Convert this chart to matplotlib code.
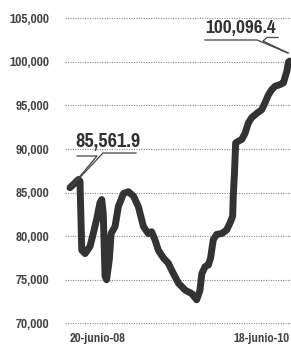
import matplotlib
matplotlib.use("Agg")
import matplotlib.pyplot as plt
from matplotlib import font_manager
from matplotlib.font_manager import FontProperties

# ---- data ----
days = [0, 28, 33, 39, 50, 66, 77, 88, 99, 105, 110, 116, 121, 130, 136, 149, 160,
        177, 193, 210, 226, 243, 259, 270, 281, 292, 309, 325, 342, 359, 381, 403,
        419, 430, 436, 447, 458, 465, 474, 485, 502, 518, 529, 538, 540, 544, 548,
        557, 568, 579, 590, 601, 618, 634, 645, 656, 667, 678, 695, 706, 717, 723, 728]
values = [85561.9, 86500, 86300, 78400, 78000, 78800, 80300, 81900, 83800, 84200, 82600,
          75400, 75000, 77300, 80300, 81100, 83400, 84900, 85100, 84600, 83400, 81100,
          80300, 80500, 79600, 78400, 77500, 76900, 75700, 74600, 73800, 73400, 72700,
          73800, 75700, 76500, 76700, 77500, 79600, 80200, 80300, 80700, 81500, 82300,
          84600, 87200, 90700, 90900, 91100, 91800, 93000, 93600, 94100, 94500, 95300,
          96200, 96800, 97200, 97400, 97600, 98900, 100000, 100096.4]
ytick_vals = [70000, 75000, 80000, 85000, 90000, 95000, 100000, 105000]
ytick_labels = ["70,000", "75,000", "80,000", "85,000", "90,000", "95,000", "100,000", "105,000"]
xtick_labels = ["20-junio-08", "18-junio-10"]
start_label = "85,561.9"
end_label = "100,096.4"

# pick a narrow font if one is installed (medium/semibold/bold preferred)
cands = []
for f in font_manager.fontManager.ttflist:
    fn = f.fname.lower().split("/")[-1]
    nm = f.name.lower()
    if ("narrow" in fn or "condensed" in fn or "narrow" in nm or "condensed" in nm) \
            and "italic" not in fn and "oblique" not in fn:
        score = 0
        if "narrow" in fn or "narrow" in nm:
            score += 10
        if "semicondensed" in fn or "semi" in nm:
            score -= 3
        if "extracondensed" in fn or "extra" in nm:
            score -= 1
        if "semibold" in fn:
            score += 4
        elif "medium" in fn:
            score += 3
        elif "extrabold" in fn or "black" in fn or "light" in fn or "thin" in fn:
            score -= 5
        elif "bold" in fn:
            score += 2
        cands.append((score, f.fname))
if cands:
    cands.sort(reverse=True)
    FP = lambda size: FontProperties(fname=cands[0][1], size=size)
else:
    FP = lambda size: FontProperties(family="DejaVu Sans", stretch="condensed", size=size)

W, H = 291, 345
fig = plt.figure(figsize=(W / 100, H / 100), dpi=100)
ax = fig.add_axes([65 / W, (345 - 332) / H, 1 - 65 / W, (332 - 9.6) / H])
ax.set_xlim(-16.5, 731)
ax.set_ylim(69000, 106000)

for v in ytick_vals:
    ax.axhline(v, color="#8a8a8a", lw=0.8, ls=(0, (1, 1.2)), zorder=1)

ax.plot(days, values, color="#333333", lw=5, solid_joinstyle="round",
        solid_capstyle="round", zorder=3)

for s in ax.spines.values():
    s.set_visible(False)
ax.set_yticks(ytick_vals)
ax.set_yticklabels(ytick_labels, color="#444444")
for t in ax.get_yticklabels():
    t.set_fontproperties(FP(10.5))
ax.tick_params(axis="y", length=0, pad=11)
ax.set_xticks([days[0], days[-1]])
xt = ax.set_xticklabels(xtick_labels, color="#444444")
for t in xt:
    t.set_fontproperties(FP(10))
xt[0].set_ha("left")
xt[1].set_ha("right")
ax.tick_params(axis="x", length=0, pad=1)

# callouts (figure pixel coords, y from top)
def P(x, y):
    return (x / W, 1 - y / H)

def line(pts, **kw):
    xs = [P(*p)[0] for p in pts]
    ys = [P(*p)[1] for p in pts]
    fig.add_artist(plt.Line2D(xs, ys, transform=fig.transFigure, color="#444444",
                              lw=0.9, **kw))

fig.text(*P(108, 147), start_label, fontproperties=FP(16), color="#333333",
         ha="center", va="baseline")
line([(77, 156), (97, 156), (71, 187)])
line([(71, 187), (103, 153), (136, 153)])

fig.text(*P(241, 33), end_label, fontproperties=FP(15), color="#333333",
         ha="center", va="baseline")
line([(205, 40), (257, 40), (288, 53)])
line([(288, 53), (263, 41), (267, 37.5), (278, 37.5)])

fig.savefig("out.png", dpi=100, facecolor="white")
